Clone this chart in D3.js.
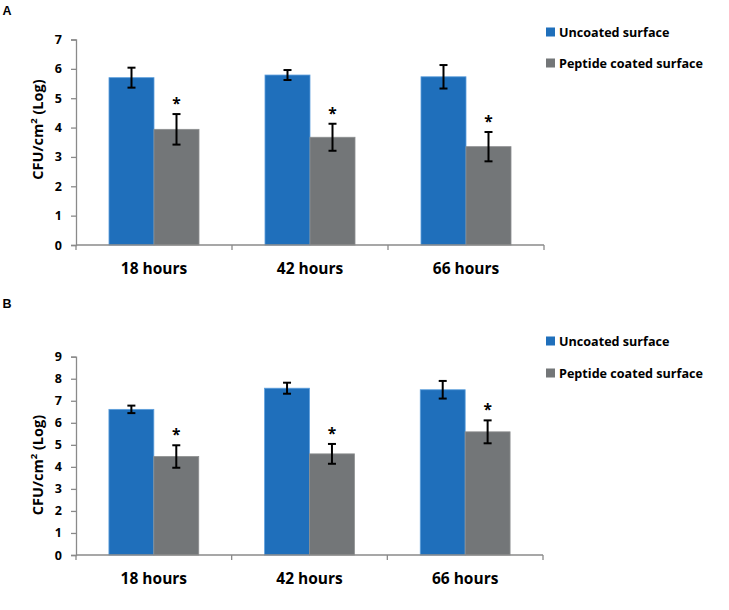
<!DOCTYPE html>
<html>
<head>
<meta charset="utf-8">
<script src="https://cdn.jsdelivr.net/npm/d3@7"></script>
<style>
  html, body { margin: 0; padding: 0; background: #fff; }
  svg { display: block; }
</style>
</head>
<body>
<svg id="chart" width="729" height="610"></svg>
<script>
// ---- data ----
const categories = ["18 hours", "42 hours", "66 hours"];
const seriesNames = ["Uncoated surface", "Peptide coated surface"];
const seriesColors = ["#1f6fbb", "#737678"];

const aUncoated = [5.70, 5.79, 5.73];
const aUncoatedErr = [0.34, 0.17, 0.40];
const aPeptide = [3.94, 3.67, 3.35];
const aPeptideErr = [0.52, 0.46, 0.50];
const aTicks = [0, 1, 2, 3, 4, 5, 6, 7];

const bUncoated = [6.61, 7.57, 7.50];
const bUncoatedErr = [0.17, 0.25, 0.40];
const bPeptide = [4.47, 4.59, 5.59];
const bPeptideErr = [0.51, 0.45, 0.52];
const bTicks = [0, 1, 2, 3, 4, 5, 6, 7, 8, 9];

const svg = d3.select("#chart");
const FONT = "'Open Sans', 'DejaVu Sans', sans-serif";
const AXIS = "#8a8a8a";

function panel(opt) {
  const g = svg.append("g");
  const x = d3.scaleBand().domain(categories).range([opt.left, opt.right]).padding(0);
  const xs = d3.scaleBand().domain(seriesNames).range([0, x.bandwidth()])
    .paddingInner(0).paddingOuter(0.733);
  const y = d3.scaleLinear().domain([0, d3.max(opt.ticks)]).range([opt.bottom, opt.top]);

  // panel letter
  g.append("text").attr("x", 2.5).attr("y", opt.letterY)
    .attr("font-family", "'Liberation Sans', Arial, sans-serif")
    .attr("font-weight", "bold").attr("font-size", 12.5).attr("fill", "#000")
    .text(opt.letter);

  // y axis
  const yAxis = d3.axisLeft(y).tickValues(opt.ticks).tickSize(5).tickPadding(9)
    .tickFormat(d3.format("d"));
  const ya = g.append("g").attr("transform", `translate(${opt.left},0)`).call(yAxis);
  ya.select(".domain").attr("stroke", AXIS).attr("stroke-width", 1.3);
  ya.selectAll(".tick line").attr("stroke", AXIS).attr("stroke-width", 1.3);
  ya.selectAll(".tick text").attr("font-family", FONT).attr("font-weight", "bold")
    .attr("font-size", 12.5).attr("fill", "#000");

  // y label
  const yl = g.append("text")
    .attr("transform", `translate(42.5,${opt.ylabelY}) rotate(-90)`)
    .attr("text-anchor", "middle")
    .attr("font-family", FONT).attr("font-weight", "bold").attr("font-size", 14.5)
    .attr("fill", "#000");
  yl.append("tspan").text("CFU/cm");
  yl.append("tspan").attr("font-size", 9.5).attr("dy", -5.5).text("2");
  yl.append("tspan").attr("dy", 5.5).text(" (Log)");

  // bars
  const rows = categories.map((c, i) => ({
    cat: c,
    vals: [
      { s: seriesNames[0], v: opt.s1[i], e: opt.e1[i], color: seriesColors[0] },
      { s: seriesNames[1], v: opt.s2[i], e: opt.e2[i], color: seriesColors[1] }
    ]
  }));
  const grp = g.selectAll(".grp").data(rows).enter().append("g")
    .attr("transform", d => `translate(${x(d.cat)},0)`);
  grp.selectAll("rect").data(d => d.vals).enter().append("rect")
    .attr("x", d => xs(d.s)).attr("width", xs.bandwidth())
    .attr("y", d => y(d.v)).attr("height", d => y(0) - y(d.v))
    .attr("fill", d => d.color)
    .attr("stroke", (d, i) => i === 0 ? "#5e9fdc" : "#8d8f90").attr("stroke-width", 0.8);

  // error bars
  const eb = grp.selectAll(".eb").data(d => d.vals).enter().append("g")
    .attr("stroke", "#000").attr("stroke-width", 2);
  eb.append("line")
    .attr("x1", d => xs(d.s) + xs.bandwidth() / 2).attr("x2", d => xs(d.s) + xs.bandwidth() / 2)
    .attr("y1", d => y(d.v + d.e)).attr("y2", d => y(d.v - d.e));
  eb.append("line")
    .attr("x1", d => xs(d.s) + xs.bandwidth() / 2 - 4).attr("x2", d => xs(d.s) + xs.bandwidth() / 2 + 4)
    .attr("y1", d => y(d.v + d.e)).attr("y2", d => y(d.v + d.e));
  eb.append("line")
    .attr("x1", d => xs(d.s) + xs.bandwidth() / 2 - 4).attr("x2", d => xs(d.s) + xs.bandwidth() / 2 + 4)
    .attr("y1", d => y(d.v - d.e)).attr("y2", d => y(d.v - d.e));

  // asterisks
  grp.append("text")
    .attr("x", d => xs(seriesNames[1]) + xs.bandwidth() / 2)
    .attr("y", d => y(d.vals[1].v + d.vals[1].e) - 5)
    .attr("text-anchor", "middle")
    .attr("font-family", FONT).attr("font-weight", "bold").attr("font-size", 15.5)
    .attr("fill", "#000").text("*");

  // x axis
  g.append("line").attr("x1", opt.left).attr("x2", opt.right)
    .attr("y1", y(0)).attr("y2", y(0)).attr("stroke", AXIS).attr("stroke-width", 1.3);
  const bounds = categories.map(c => x(c)).concat([x(categories[categories.length - 1]) + x.bandwidth()]);
  g.selectAll(".xt").data(bounds).enter().append("line")
    .attr("x1", d => d).attr("x2", d => d)
    .attr("y1", y(0)).attr("y2", y(0) + 5)
    .attr("stroke", AXIS).attr("stroke-width", 1.3);
  g.selectAll(".xl").data(categories).enter().append("text")
    .attr("x", d => x(d) + x.bandwidth() / 2).attr("y", opt.xlabelY)
    .attr("text-anchor", "middle")
    .attr("font-family", FONT).attr("font-weight", "bold").attr("font-size", 15.5)
    .attr("fill", "#000").text(d => d);

  // legend
  const lg = g.selectAll(".lg").data(seriesNames).enter().append("g")
    .attr("transform", (d, i) => `translate(546,${opt.legendY[i]})`);
  lg.append("rect").attr("x", 0).attr("y", -4.5).attr("width", 9).attr("height", 9)
    .attr("fill", (d, i) => seriesColors[i]);
  lg.append("text").attr("x", 13).attr("y", 4.5)
    .attr("font-family", FONT).attr("font-weight", "bold").attr("font-size", 12.6)
    .attr("fill", "#000").text(d => d);
}

panel({
  letter: "A", letterY: 15,
  left: 76, right: 544, top: 39.5, bottom: 245,
  ticks: aTicks, s1: aUncoated, e1: aUncoatedErr, s2: aPeptide, e2: aPeptideErr,
  ylabelY: 129.5, xlabelY: 273.5, legendY: [32, 63]
});

panel({
  letter: "B", letterY: 308,
  left: 76, right: 543, top: 356.7, bottom: 555,
  ticks: bTicks, s1: bUncoated, e1: bUncoatedErr, s2: bPeptide, e2: bPeptideErr,
  ylabelY: 465, xlabelY: 583.5, legendY: [341, 373]
});
</script>
</body>
</html>
